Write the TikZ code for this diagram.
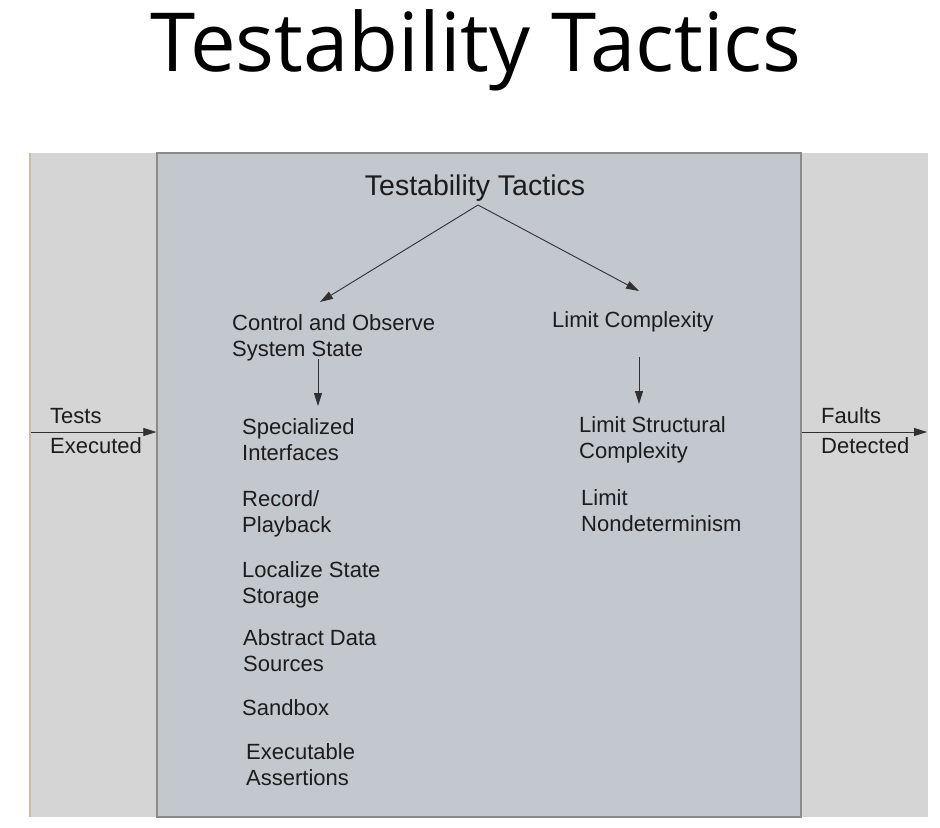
\documentclass[tikz,border=0pt]{standalone}
\usepackage{fontspec}
\setmainfont{Liberation Sans}
\newfontfamily\titlefont{Open Sans}
\usetikzlibrary{arrows.meta}
\definecolor{outergray}{HTML}{D5D5D5}
\definecolor{innerblue}{HTML}{C3C7CE}
\definecolor{boxline}{HTML}{8A8A8A}
\definecolor{tanline}{HTML}{C9BDA7}
\definecolor{txt}{HTML}{1C1C1C}
\definecolor{arrowcol}{HTML}{303030}
\newcommand\mystrut{\rule{0pt}{18bp}}
\tikzset{
  item/.style={anchor=north west, inner sep=0pt, align=left, text=txt,
    font=\fontsize{22bp}{26.5bp}\selectfont},
  arr/.style={draw=arrowcol, line width=0.9bp, -{Triangle[length=13bp,width=8bp]}},
}
\begin{document}
\begin{tikzpicture}[x=1bp,y=-1bp]
\useasboundingbox[fill=white] (0,0) rectangle (940,828);
% title
\node[anchor=base, inner sep=0pt, font=\titlefont\fontsize{81.5bp}{90bp}\selectfont] (title) at (476,71) {Testability Tactics};
% outer gray band
\node[draw=none, fill=outergray, minimum width=899bp, minimum height=664bp, inner sep=0pt] (outer) at (478.5,485) {};
\draw[tanline, line width=2bp] (outer.north west) ++(1,0) -- ++(0,664);
% inner box
\node[draw=boxline, line width=1.3bp, fill=innerblue, minimum width=644bp, minimum height=664bp, inner sep=0pt] (inner) at (479,485) {};
% inner title
\node[anchor=base, inner sep=0pt, text=txt, font=\fontsize{28.5bp}{34bp}\selectfont] (tt) at (475,195) {Testability Tactics};
\coordinate (ttout) at (478,205);
% second level
\node[item] (cos) at (232,312) {\mystrut Control and Observe\\System State};
\node[item] (lc) at (552,309) {\mystrut Limit Complexity};
\coordinate (cosin) at (320,302);
\coordinate (lcin) at (639,291);
\draw[arr] (ttout) -- (cosin);
\draw[arr] (ttout) -- (lcin);
% left list
\node[item] (spec) at (242,416) {\mystrut Specialized\\Interfaces};
\node[item] (rec) at (242,488) {\mystrut Record/\\Playback};
\node[item] (loc) at (242,559) {\mystrut Localize State\\Storage};
\node[item] (abs) at (243,627) {\mystrut Abstract Data\\Sources};
\node[item] (sand) at (242,697) {\mystrut Sandbox};
\node[item] (exe) at (246,741) {\mystrut Executable\\Assertions};
% right list
\node[item] (lsc) at (579,414) {\mystrut Limit Structural\\Complexity};
\node[item] (lnd) at (581,487) {\mystrut Limit\\Nondeterminism};
% vertical arrows
\coordinate (cosout) at (318,359);
\coordinate (specin) at (318,406);
\coordinate (lcout) at (639,357);
\coordinate (lscin) at (639,404);
\draw[arr] (cosout) -- (specin);
\draw[arr] (lcout) -- (lscin);
% side labels
\node[item] (tests) at (50,405) {\mystrut Tests\\[3.5bp]Executed};
\node[item] (faults) at (821,405) {\mystrut Faults\\[3.5bp]Detected};
\coordinate (tin) at (31,432);
\coordinate (fout) at (927,432);
\draw[arr, line width=0.8bp] (tin) -- (inner.west |- tin);
\draw[arr, line width=0.8bp] (inner.east |- fout) -- (fout);
\end{tikzpicture}
\end{document}
